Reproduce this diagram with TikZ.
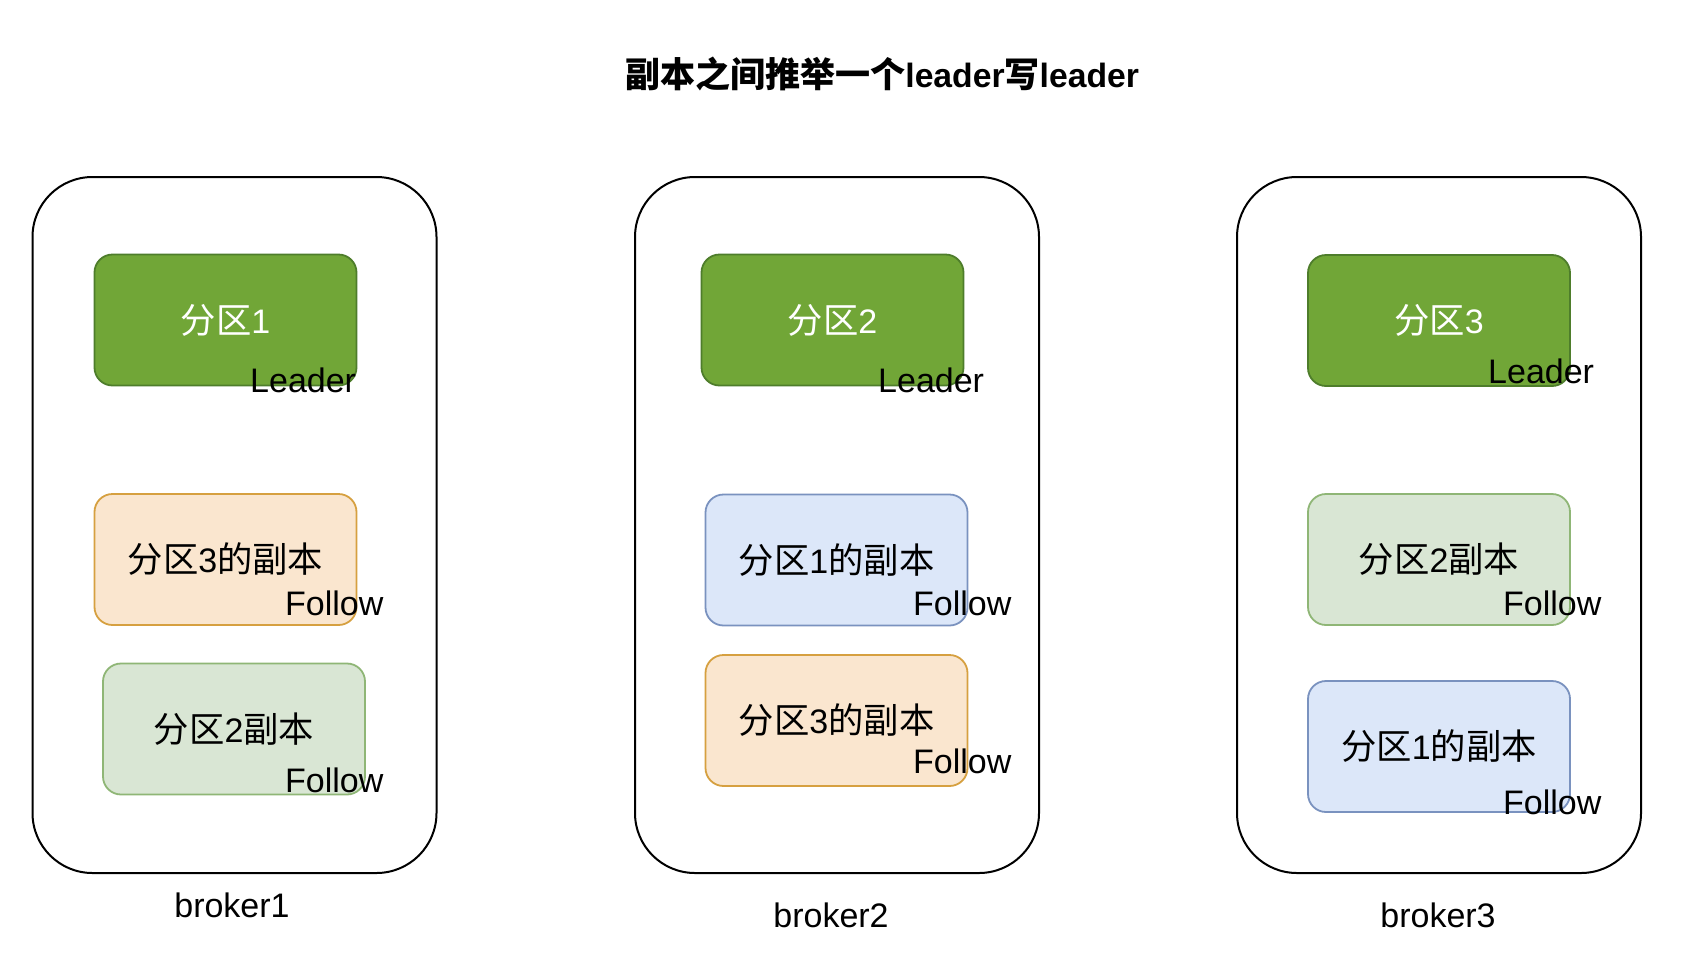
\documentclass[tikz,border=0pt]{standalone}
\usepackage{fontspec}
\setmainfont{Liberation Sans}
\newfontfamily\cjk[Scale=1.04]{Noto Sans CJK SC}
\newcommand\zh[1]{{\cjk #1}}
\definecolor{gfill}{HTML}{71A637}
\definecolor{gdraw}{HTML}{4E7D2B}
\definecolor{pfill}{HTML}{FAE6CF}
\definecolor{pdraw}{HTML}{D6A040}
\definecolor{bfill}{HTML}{DCE7F9}
\definecolor{bdraw}{HTML}{7A92BF}
\definecolor{lgfill}{HTML}{D9E6D4}
\definecolor{lgdraw}{HTML}{8FB676}
\begin{document}
\begin{tikzpicture}[x=1pt,y=-1pt,
  brokerbox/.style={draw=black,line width=2pt,rounded corners=60pt,minimum width=404pt,minimum height=696pt,inner sep=0pt},
  part/.style={line width=1.8pt,rounded corners=18pt,minimum width=262pt,minimum height=131pt,inner sep=0pt,font=\fontsize{34}{40}\selectfont},
  leaderbox/.style={part,fill=gfill,draw=gdraw,text=white},
  peachbox/.style={part,fill=pfill,draw=pdraw},
  bluebox/.style={part,fill=bfill,draw=bdraw},
  lgreenbox/.style={part,fill=lgfill,draw=lgdraw},
  lbl/.style={anchor=base west,inner sep=0pt,font=\fontsize{34}{40}\selectfont},
  blbl/.style={anchor=base,inner sep=0pt,font=\fontsize{34}{40}\selectfont},
]
\useasboundingbox (0,0) rectangle (1693,964);
\fill[white] (0,0) rectangle (1693,964);

\node[anchor=base,inner sep=0pt,font=\fontsize{33.7}{40}\selectfont\bfseries] (title) at (882,87)
  {\zh{副本之间推举一个}leader\zh{写}leader};

% brokers
\node[brokerbox] (br1) at (234.5,525) {};
\node[brokerbox] (br2) at (837,525) {};
\node[brokerbox] (br3) at (1439,525) {};

% broker1
\node[leaderbox] (g1) at (225.5,320) {\zh{分区}1};
\node[lbl] (l1) at (250,392) {Leader};
\node[peachbox] (p1) at (225.5,559.5) {\zh{分区}3\zh{的副本}};
\node[lbl] (f1) at (285,615) {Follow};
\node[lgreenbox] (lg1) at (234,729) {\zh{分区}2\zh{副本}};
\node[lbl] (f2) at (285,792) {Follow};

% broker2
\node[leaderbox] (g2) at (832.5,320) {\zh{分区}2};
\node[lbl] (l2) at (878,392) {Leader};
\node[bluebox] (b2) at (836.5,560) {\zh{分区}1\zh{的副本}};
\node[lbl] (f3) at (913,615) {Follow};
\node[peachbox] (p2) at (836.5,720.5) {\zh{分区}3\zh{的副本}};
\node[lbl] (f4) at (913,773) {Follow};

% broker3
\node[leaderbox] (g3) at (1439,320.5) {\zh{分区}3};
\node[lbl] (l3) at (1488,383) {Leader};
\node[lgreenbox] (lg3) at (1439,559.5) {\zh{分区}2\zh{副本}};
\node[lbl] (f5) at (1503,615) {Follow};
\node[bluebox] (b3) at (1439,746.5) {\zh{分区}1\zh{的副本}};
\node[lbl] (f6) at (1503,814) {Follow};

% broker labels
\node[blbl] (n1) at (232,917) {broker1};
\node[blbl] (n2) at (831,927) {broker2};
\node[blbl] (n3) at (1438,927) {broker3};
\end{tikzpicture}
\end{document}
